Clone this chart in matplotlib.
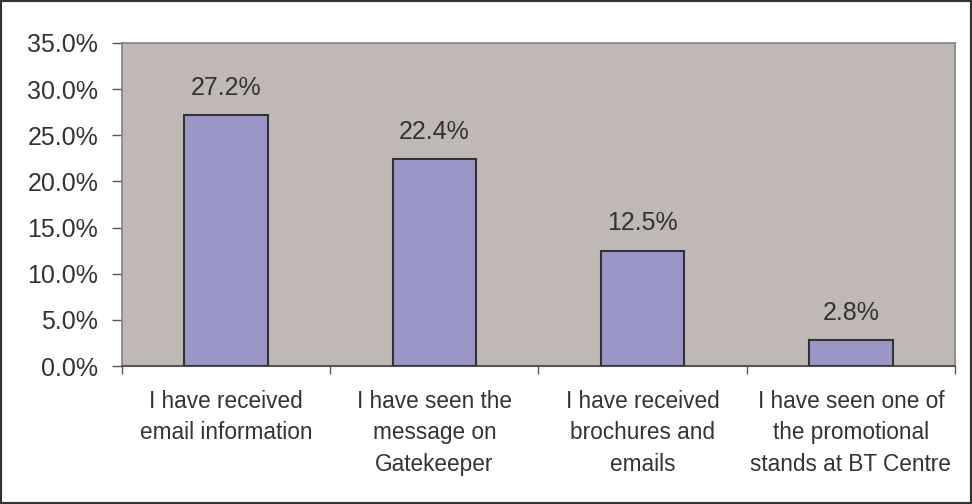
import matplotlib
matplotlib.use("Agg")
import matplotlib.pyplot as plt
import numpy as np
from matplotlib.patches import Rectangle
from matplotlib.ticker import FixedLocator, PercentFormatter

categories = [
    "I have received\nemail information",
    "I have seen the\nmessage on\nGatekeeper",
    "I have received\nbrochures and\nemails",
    "I have seen one of\nthe promotional\nstands at BT Centre",
]
values = [27.2, 22.4, 12.5, 2.8]
yticks = [0, 5, 10, 15, 20, 25, 30, 35]

plt.rcParams["font.family"] = ["Liberation Sans", "DejaVu Sans"]
TEXT = "#333333"

fig = plt.figure(figsize=(9.72, 5.04), dpi=100)
ax = fig.add_axes([0.1255, 0.2738, 0.857, 0.641])
ax.set_facecolor("#BFB8B4")

x = np.arange(len(values))
ax.bar(x, values, width=0.4, color="#9C97C9", edgecolor="#333333", linewidth=1.5, zorder=3)
for xi, v in zip(x, values):
    ax.annotate(f"{v:.1f}%", (xi, v), xytext=(0, 14.5), textcoords="offset points",
                ha="center", va="baseline", fontsize=18, color=TEXT)

ax.set_xlim(-0.5, len(values) - 0.5)
ax.set_ylim(0, 35)
ax.set_yticks(yticks)
ax.yaxis.set_major_formatter(PercentFormatter(decimals=1))
ax.set_xticks(x)
ax.set_xticklabels(categories, fontsize=16.3, color=TEXT, linespacing=1.48)
ax.xaxis.set_minor_locator(FixedLocator(np.arange(len(values) + 1) - 0.5))
ax.tick_params(axis="x", which="major", length=0, pad=17)
ax.tick_params(axis="x", which="minor", length=6, color="#555555", width=1)
ax.tick_params(axis="y", length=7, color="#555555", width=1, pad=10, labelsize=18, labelcolor=TEXT)

for side in ["top", "right", "left"]:
    ax.spines[side].set_color("#888080")
    ax.spines[side].set_linewidth(1.2)
ax.spines["bottom"].set_color("#555555")
ax.spines["bottom"].set_linewidth(1.5)

fig.patches.append(Rectangle((0, 0), 1, 1, transform=fig.transFigure, fill=False,
                             edgecolor="#333333", linewidth=3, zorder=10))

fig.savefig("out.png", dpi=100)
